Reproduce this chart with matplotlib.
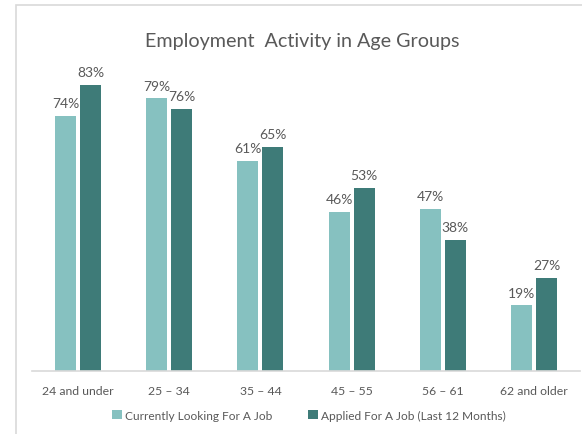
import numpy as np
import matplotlib.pyplot as plt
from matplotlib.patches import Rectangle

groups = ['24 and under', '25 – 34', '35 – 44', '45 – 55', '56 – 61', '62 and older']
looking = [74, 79, 61, 46, 47, 19]
applied = [83, 76, 65, 53, 38, 27]
series_names = ['Currently Looking For A Job', 'Applied For A Job (Last 12 Months)']

light = '#86c1c0'
dark = '#3e7b78'
grey_text = '#595959'

plt.rcParams['font.family'] = ['Lato', 'DejaVu Sans']

fig = plt.figure(figsize=(5.82, 4.35), dpi=100)
W, H = 582, 435

# chart frame (only left and top edges visible in the crop)
fig.patches.append(Rectangle((16 / W, -0.1), 1.2, 1 - 6 / H + 0.1,
                             transform=fig.transFigure, fill=False,
                             edgecolor='#d9d9d9', linewidth=1.2))

ax = fig.add_axes([32.4 / W, 1 - 372 / H, 547.2 / W, 310.5 / H])
x = np.arange(len(groups))
bw = 0.23
off = 0.137
b1 = ax.bar(x - off, looking, bw, color=light, label=series_names[0])
b2 = ax.bar(x + off, applied, bw, color=dark, label=series_names[1])

for bars, vals in ((b1, looking), (b2, applied)):
    for r, v in zip(bars, vals):
        ax.annotate(f'{v}%', (r.get_x() + r.get_width() / 2, v),
                    xytext=(0, 5), textcoords='offset points',
                    ha='center', va='bottom', fontsize=10, color=grey_text)

ax.set_xlim(-0.5, len(groups) - 0.5)
ax.set_ylim(0, 90)
ax.set_yticks([])
ax.set_xticks(x)
ax.set_xticklabels(groups, fontsize=8.8, color=grey_text)
ax.tick_params(axis='x', length=0, pad=10)
for s in ('top', 'right', 'left'):
    ax.spines[s].set_visible(False)
ax.spines['bottom'].set_color('#d9d9d9')
ax.spines['bottom'].set_linewidth(1.2)

fig.text(302 / W, 1 - 42 / H, 'Employment  Activity in Age Groups',
         ha='center', va='center', fontsize=14.2, color=grey_text)

fig.legend(handles=[b1, b2], loc='center', bbox_to_anchor=(309 / W, 1 - 416 / H),
           ncol=2, frameon=False, fontsize=8.6, labelcolor=grey_text,
           handlelength=0.8, handleheight=0.8, handletextpad=0.25, columnspacing=3.0)

fig.savefig('out.png', dpi=100)
